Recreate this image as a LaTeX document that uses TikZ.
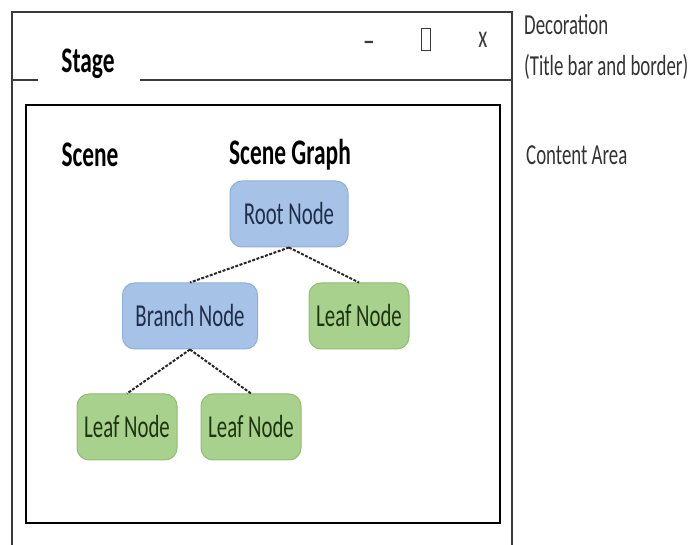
\documentclass[tikz,border=0pt]{standalone}
\usepackage{fontspec}
\setmainfont{Carlito}[FakeStretch=0.65]
\usetikzlibrary{positioning}
\definecolor{frameGray}{HTML}{3A3A3A}
\definecolor{nodeBlue}{HTML}{A6C3E7}
\definecolor{nodeBlueEdge}{HTML}{8EAFD8}
\definecolor{nodeGreen}{HTML}{A9D18E}
\definecolor{nodeGreenEdge}{HTML}{90BC74}
\definecolor{textNavy}{HTML}{1F2D4A}
\definecolor{textGreen}{HTML}{1C3510}
\definecolor{labelGray}{HTML}{333333}

\begin{document}
\begin{tikzpicture}[x=1pt, y=-1pt,
    every node/.style={font=\fontsize{32}{38}\selectfont, inner sep=0pt},
    title/.style={font=\fontsize{36}{42}\selectfont\bfseries},
    side/.style={anchor=west, font=\fontsize{29}{34}\selectfont, text=labelGray},
    graphnode/.style={draw, rounded corners=12pt, line width=1pt, minimum height=66pt},
    branchbox/.style={graphnode, fill=nodeBlue, draw=nodeBlueEdge, text=textNavy},
    leafbox/.style={graphnode, fill=nodeGreen, draw=nodeGreenEdge, text=textGreen,
                    minimum width=100pt},
    link/.style={draw=black!85, line width=2pt, dash pattern=on 3pt off 1.5pt},
  ]
  \clip (0,0) rectangle (697,545);

  % window frame and title bar
  \draw[frameGray, line width=1.5pt] (12,560) -- (12,12) -- (512,12) -- (512,560);
  \coordinate (barL) at (12,80);
  \coordinate (gapL) at (38,80);
  \coordinate (gapR) at (140,80);
  \coordinate (barR) at (512,80);
  \draw[frameGray, line width=2pt] (barL) -- (gapL);
  \draw[frameGray, line width=2pt] (gapR) -- (barR);
  \node[title] (stage) at (88,64) {Stage};
  \node[text=frameGray, font=\fontsize{36}{42}\selectfont] (minbtn) at (369,47) {--};
  \node[draw=frameGray, line width=1pt, minimum width=9pt, minimum height=22pt] (maxbtn) at (426,40) {};
  \node[text=frameGray] (closebtn) at (483,40) {x};

  % content area
  \draw[black, line width=2.5pt] (26,105) rectangle (500,523);
  \node[title] (scene) at (90,155) {Scene};
  \node[title] (graph) at (290,155) {Scene Graph};

  \node[branchbox, minimum width=118pt] (root)   at (289,214) {Root Node};
  \node[branchbox, minimum width=135pt] (branch) at (190,316) {Branch Node};
  \node[leafbox]                        (leafR)  at (359,316) {Leaf Node};
  \node[leafbox]                        (leafA)  at (127,427) {Leaf Node};
  \node[leafbox]                        (leafB)  at (251,427) {Leaf Node};

  \draw[link] (root.south) -- (branch.north);
  \draw[link] (root.south) -- (leafR.north);
  \draw[link] (branch.south) -- (leafA.north);
  \draw[link] (branch.south) -- (leafB.north);

  % labels on the right
  \node[side] (decor)   at (524,25)  {Decoration};
  \node[side] (decor2)  at (524,67)  {(Title bar and border)};
  \node[side] (content) at (526,155) {Content Area};
\end{tikzpicture}
\end{document}
